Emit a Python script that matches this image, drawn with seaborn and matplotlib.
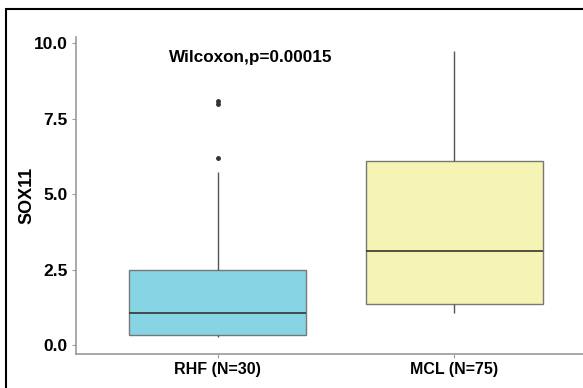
import matplotlib
matplotlib.use("Agg")
import matplotlib.pyplot as plt
import seaborn as sns
import pandas as pd
from matplotlib.lines import Line2D

sns.set_style("white")
plt.rcParams['font.family'] = ['Liberation Sans', 'DejaVu Sans']
plt.rcParams['text.color'] = 'black'
plt.rcParams['axes.labelcolor'] = 'black'
plt.rcParams['xtick.color'] = 'black'
plt.rcParams['ytick.color'] = 'black'

categories = ["RHF (N=30)", "MCL (N=75)"]
# representative values reproducing the box statistics
rhf_values = [0.27, 0.29, 0.31, 0.32, 0.33, 0.55, 0.75, 0.9, 1.07, 1.3, 1.7, 2.1, 2.5, 5.74, 6.2, 8.0, 8.1]
mcl_values = [1.06, 1.36, 3.12, 6.11, 9.74]
colors = ["#87D5E4", "#F5F4B5"]
yticks = [0.0, 2.5, 5.0, 7.5, 10.0]
annotation = "Wilcoxon,p=0.00015"
ylabel = "SOX11"

df = pd.DataFrame({
    "group": [categories[0]] * len(rhf_values) + [categories[1]] * len(mcl_values),
    "value": rhf_values + mcl_values,
})

W, H = 583, 388
fig = plt.figure(figsize=(W / 100, H / 100), dpi=100)
ax = fig.add_axes([76 / W, 1 - 354 / H, (596 - 76) / W, (354 - 37) / H])

sns.boxplot(data=df, x="group", y="value", hue="group", palette=colors,
            order=categories, hue_order=categories, legend=False,
            width=0.75, whis=1.5, saturation=1, ax=ax,
            boxprops=dict(edgecolor="#777777", linewidth=1.0),
            medianprops=dict(color="#333333", linewidth=1.2),
            whiskerprops=dict(color="#555555", linewidth=1.0),
            capprops=dict(linewidth=0),
            flierprops=dict(marker="o", markersize=2.5, markerfacecolor="#333333",
                            markeredgecolor="#333333"))

ax.set_xlim(-0.6, 1.6)
ax.set_ylim(-0.30, 10.21)
ax.set_yticks(yticks)
ax.set_yticklabels([f"{t:.1f}" for t in yticks], fontsize=12.5, fontweight="bold", color="black")
ax.set_xticks([0, 1])
ax.set_xticklabels(categories, fontsize=11.5, fontweight="bold", color="black")
ax.set_xlabel("")
ax.set_ylabel(ylabel, fontsize=13, fontweight="bold", labelpad=-1, color="black")

for s in ["top", "right"]:
    ax.spines[s].set_visible(False)
for s in ["left", "bottom"]:
    ax.spines[s].set_color("#9a9a9a")
    ax.spines[s].set_linewidth(1.2)
ax.tick_params(axis="both", which="major", length=3, width=0.8,
               left=True, bottom=True, pad=3)
ax.tick_params(axis="both", color="#9a9a9a", labelcolor="black")

ax.text(0.14, 9.54, annotation, ha="center", va="center", fontsize=12.3,
        fontweight="bold", color="black")

# outer frame of the original figure (top and left edges visible)
fig.add_artist(Line2D([6 / W, 6 / W], [0, 1 - 9 / H], transform=fig.transFigure,
                      color="black", linewidth=1.5))
fig.add_artist(Line2D([6 / W, 1], [1 - 9 / H, 1 - 9 / H], transform=fig.transFigure,
                      color="black", linewidth=1.5))

fig.savefig("out.png", dpi=100)
